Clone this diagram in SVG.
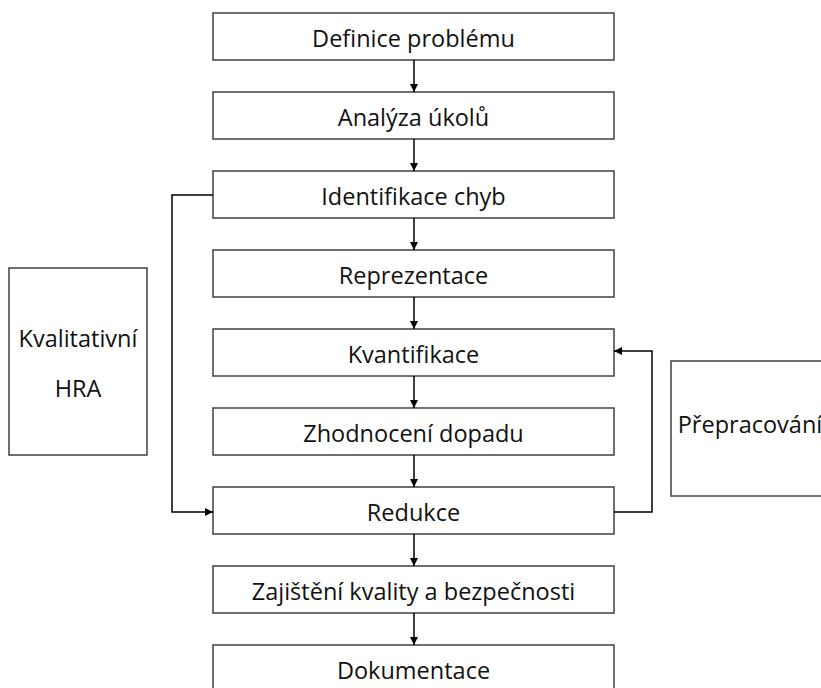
<svg xmlns="http://www.w3.org/2000/svg" width="821" height="688" viewBox="0 0 821 688">
<defs>
<marker id="ah" viewBox="0 0 8 8" refX="8" refY="4" markerWidth="8" markerHeight="8" markerUnits="userSpaceOnUse" orient="auto">
<path d="M0,0 L8,4 L0,8 Z" fill="#000"/>
</marker>
</defs>
<style>
.box{fill:#fff;stroke:#404040;stroke-width:1.5}
.t{font-family:"Open Sans","DejaVu Sans",sans-serif;font-size:23.5px;fill:#111;text-anchor:middle}
.c{fill:none;stroke:#000;stroke-width:1.5;marker-end:url(#ah)}
</style>
<rect width="821" height="688" fill="#fff"/>
<g id="n1"><rect class="box" x="213" y="13" width="401" height="47"/><text class="t" x="413.5" y="47">Definice problému</text></g>
<g id="n2"><rect class="box" x="213" y="92" width="401" height="47"/><text class="t" x="413.5" y="126">Analýza úkolů</text></g>
<g id="n3"><rect class="box" x="213" y="171" width="401" height="47"/><text class="t" x="413.5" y="205">Identifikace chyb</text></g>
<g id="n4"><rect class="box" x="213" y="250" width="401" height="47"/><text class="t" x="413.5" y="284">Reprezentace</text></g>
<g id="n5"><rect class="box" x="213" y="329" width="401" height="47"/><text class="t" x="413.5" y="363">Kvantifikace</text></g>
<g id="n6"><rect class="box" x="213" y="408" width="401" height="47"/><text class="t" x="413.5" y="442">Zhodnocení dopadu</text></g>
<g id="n7"><rect class="box" x="213" y="487" width="401" height="47"/><text class="t" x="413.5" y="521">Redukce</text></g>
<g id="n8"><rect class="box" x="213" y="566" width="401" height="47"/><text class="t" x="413.5" y="600">Zajištění kvality a bezpečnosti</text></g>
<g id="n9"><rect class="box" x="213" y="645" width="401" height="47"/><text class="t" x="413.5" y="679">Dokumentace</text></g>
<g id="kval"><rect class="box" x="9" y="268" width="138" height="187"/><text class="t" x="78" y="347">Kvalitativní</text><text class="t" x="78" y="397">HRA</text></g>
<g id="prep"><rect class="box" x="671" y="361" width="160" height="135"/><text class="t" x="750" y="433">Přepracování</text></g>
<g id="connectors">
<line class="c" x1="414" y1="60" x2="414" y2="92"/>
<line class="c" x1="414" y1="139" x2="414" y2="171"/>
<line class="c" x1="414" y1="218" x2="414" y2="250"/>
<line class="c" x1="414" y1="297" x2="414" y2="329"/>
<line class="c" x1="414" y1="376" x2="414" y2="408"/>
<line class="c" x1="414" y1="455" x2="414" y2="487"/>
<line class="c" x1="414" y1="534" x2="414" y2="566"/>
<line class="c" x1="414" y1="613" x2="414" y2="645"/>
<polyline class="c" points="213,195 172,195 172,512 213,512"/>
<polyline class="c" points="614,512 652,512 652,351 614,351"/>
</g>
</svg>
